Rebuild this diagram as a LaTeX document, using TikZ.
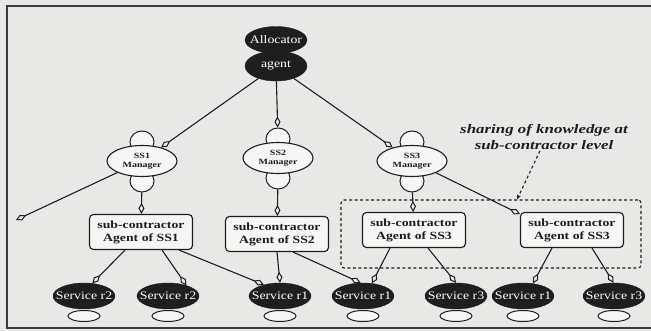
\documentclass[tikz,border=0pt]{standalone}
\usepackage{fontspec}
\usetikzlibrary{shapes.geometric,arrows.meta}
\newfontfamily\bxf[FakeStretch=1.25]{Liberation Serif}
\newfontfamily\svf[FakeStretch=1.2]{Liberation Serif}
\newfontfamily\lblf[FakeStretch=1.3]{Liberation Serif}
\definecolor{bgc}{HTML}{E8E8E6}
\definecolor{ink}{HTML}{1E1E1E}
\definecolor{paper}{HTML}{F6F6F4}
\definecolor{framec}{HTML}{3A3A3A}
\begin{document}
\begin{tikzpicture}[x=1pt,y=-1pt,
  inkline/.style={draw=ink, line width=1.1pt},
  arr/.style={inkline, -{Kite[open,length=11pt,width=6pt,inset=5.5pt,line width=1pt]}},
  blkell/.style={ellipse, fill=ink, draw=ink, inner sep=0pt, minimum width=62pt, minimum height=26pt},
  wtxt/.style={text=white, inner sep=0pt, font=\svf\fontsize{11.5}{12}\selectfont},
  mini/.style={ellipse, fill=paper, draw=ink, line width=1pt, inner sep=0pt, minimum width=24pt, minimum height=22pt},
  mgr/.style={ellipse, fill=paper, draw=ink, line width=1.1pt, inner sep=0pt, minimum width=70pt, minimum height=31pt},
  mtxt/.style={align=center, inner sep=0pt, text=ink, font=\bxf\bfseries\fontsize{8}{9.5}\selectfont},
  sbox/.style={rectangle, rounded corners=4pt, fill=paper, draw=ink, line width=1.1pt, minimum width=103pt, minimum height=35pt, inner sep=0pt, align=center, text=ink, font=\bxf\bfseries\fontsize{11}{13}\selectfont},
  foot/.style={ellipse, fill=paper, draw=ink, line width=1pt, inner sep=0pt, minimum width=32pt, minimum height=11pt},
  lbl/.style={align=center, inner sep=1pt, text=ink, font=\lblf\bfseries\itshape\fontsize{13}{16}\selectfont},
  grpbox/.style={draw=ink, line width=1.1pt, dash pattern=on 3pt off 2.5pt, rounded corners=3pt, minimum width=300pt, minimum height=68pt, inner sep=0pt}
]
\fill[bgc] (0,0) rectangle (651,331);
\useasboundingbox (0,0) rectangle (651,331);
\draw[framec, line width=2pt] (651,6) -- (7,6) -- (7,328) -- (651,328);

% dashed group
\node[grpbox] (grp) at (491,234) {};
\node[lbl] (note) at (544,137) {sharing of knowledge at\\sub-contractor level};

% allocator
\node[blkell, minimum height=27pt] (alloc) at (276,40) {};
\node[blkell, minimum height=30pt] (agent) at (276,66) {};
\node[wtxt] (alloct) at (alloc) {Allocator};
\node[wtxt] (agentt) at (agent) {agent};

% managers
\node[mini] (m1a) at (142,142) {};
\node[mini] (m1z) at (142,181) {};
\node[mgr] (m1) at (142,161) {};
\node[mtxt] (m1l) at (m1) {SS1\\Manager};

\node[mini] (m2a) at (278,139) {};
\node[mini] (m2z) at (278,178) {};
\node[mgr] (m2) at (278,158) {};
\node[mtxt] (m2l) at (m2) {SS2\\Manager};

\node[mini] (m3a) at (412,142) {};
\node[mini] (m3z) at (412,181) {};
\node[mgr] (m3) at (412,161) {};
\node[mtxt] (m3l) at (m3) {SS3\\Manager};

% sub-contractor boxes
\node[sbox] (b1) at (141,232) {sub-contractor\\Agent of SS1};
\node[sbox] (b2) at (277,234) {sub-contractor\\Agent of SS2};
\node[sbox] (b3) at (414,230) {sub-contractor\\Agent of SS3};
\node[sbox] (b4) at (572,230) {sub-contractor\\Agent of SS3};

% services
\foreach \n/\x/\t in {1/84/Service r2, 2/168/Service r2, 3/280/Service r1, 4/363/Service r1, 5/456/Service r3, 6/523/Service r1, 7/614/Service r3}{
  \node[foot] (e\n) at (\x,316) {};
  \node[blkell] (s\n) at (\x,296) {};
  \node[wtxt] (s\n t) at (s\n) {\t};
}

\coordinate (off) at (16,220);

% connectors
\draw[arr] (agent) -- (m1);
\draw[arr] (agent) -- (m2a);
\draw[arr] (agent) -- (m3);
\draw[arr] (m1) -- (off);
\draw[arr] (m1z) -- (b1);
\draw[arr] (m2z) -- (b2);
\draw[arr] (m3z) -- (b3);
\draw[arr] (m3) -- (b4.163);

\draw[arr] ([xshift=-16pt]b1.south) -- (s1.57);
\draw[arr] ([xshift=21pt]b1.south) -- (s2.30);
\draw[arr] ([xshift=38pt]b1.south) -- (s3.145);
\draw[arr] (b2.south) -- (s3.north);
\draw[arr] ([xshift=16pt]b2.south) -- (s4.100);
\draw[arr] ([xshift=-24pt]b3.south) -- (s4.55);
\draw[arr] ([xshift=14pt]b3.south) -- (s5.90);
\draw[arr] ([xshift=-20pt]b4.south) -- (s6.52);
\draw[arr] ([xshift=20pt]b4.south) -- (s7.92);

\draw[inkline, dash pattern=on 3pt off 2.5pt, -{Stealth[length=5pt,width=4pt]}] ([xshift=-4pt]note.south) -- ([xshift=26pt]grp.north);
\end{tikzpicture}
\end{document}
